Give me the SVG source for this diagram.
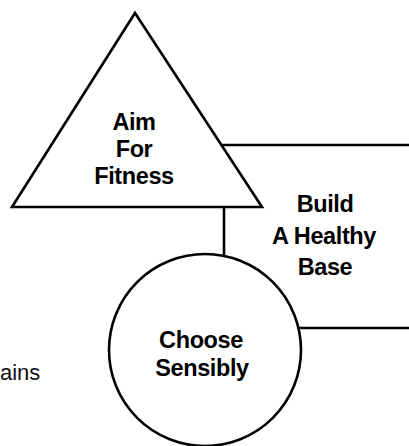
<svg xmlns="http://www.w3.org/2000/svg" width="409" height="446" viewBox="0 0 409 446">
<style>
.shape{fill:#fff;stroke:#000;stroke-width:2.6;stroke-linejoin:miter}
.conn{fill:none;stroke:#000;stroke-width:2.6}
.lbl{font-family:"Liberation Sans",Arial,sans-serif;font-weight:bold;font-size:23.5px;letter-spacing:-0.4px;fill:#000;text-anchor:middle}
.side{font-family:"Liberation Sans",Arial,sans-serif;font-size:22px;fill:#111}
</style>
<rect width="409" height="446" fill="#fff"/>
<g id="connectors">
<line class="conn" x1="221" y1="145" x2="409" y2="145"/>
<line class="conn" x1="224" y1="207" x2="224" y2="256"/>
<line class="conn" x1="298" y1="328" x2="409" y2="328"/>
</g>
<g id="aim-for-fitness">
<polygon class="shape" points="135,13 262,207 12,207"/>
<text class="lbl" x="134" y="130">Aim</text>
<text class="lbl" x="134" y="157">For</text>
<text class="lbl" x="134" y="184">Fitness</text>
</g>
<g id="build-a-healthy-base">
<text class="lbl" x="325" y="212">Build</text>
<text class="lbl" x="324" y="244">A Healthy</text>
<text class="lbl" x="325" y="275">Base</text>
</g>
<g id="choose-sensibly">
<circle class="shape" cx="205" cy="350" r="96"/>
<text class="lbl" x="201" y="348">Choose</text>
<text class="lbl" x="202" y="376">Sensibly</text>
</g>
<g id="grains-fragment">
<text class="side" x="0" y="380">ains</text>
</g>
</svg>
